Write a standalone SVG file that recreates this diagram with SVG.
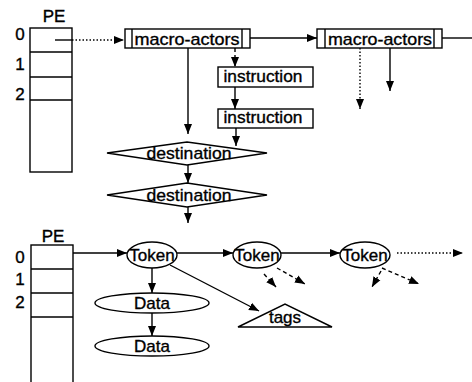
<svg xmlns="http://www.w3.org/2000/svg" width="472" height="382" viewBox="0 0 472 382">
<style>
text{font-family:"Liberation Sans",Arial,sans-serif;font-size:17px;fill:#000;stroke:#000;stroke-width:0.35;text-anchor:middle}
.s{fill:none;stroke:#000;stroke-width:1.4}
.w{fill:#fff;stroke:#000;stroke-width:1.4}
.c{fill:none;stroke:#000;stroke-width:1.4}
.d{stroke-dasharray:4 3}
.o{stroke-dasharray:1.5 2}
.a{marker-end:url(#ah)}
</style>
<defs>
<marker id="ah" markerUnits="userSpaceOnUse" markerWidth="10" markerHeight="10" viewBox="0 0 10 10" refX="10" refY="5" orient="auto">
<path d="M0,1 L10,5 L0,9 Z" fill="#000"/>
</marker>
</defs>
<g id="pe-top">
<text x="54" y="22">PE</text>
<rect class="s" x="30" y="28" width="42" height="144"/>
<line class="s" x1="30" y1="52" x2="72" y2="52"/>
<line class="s" x1="30" y1="77" x2="72" y2="77"/>
<line class="s" x1="30" y1="100" x2="72" y2="100"/>
<text x="20" y="40">0</text>
<text x="20" y="70">1</text>
<text x="20" y="100">2</text>
</g>
<g id="macro1">
<rect class="w" x="125" y="29" width="125" height="19"/>
<line class="s" x1="132" y1="29" x2="132" y2="48"/>
<line class="s" x1="242" y1="29" x2="242" y2="48"/>
<text x="187" y="45" textLength="105" lengthAdjust="spacingAndGlyphs">macro-actors</text>
</g>
<g id="macro2">
<rect class="w" x="317" y="29" width="125" height="19"/>
<line class="s" x1="325" y1="29" x2="325" y2="48"/>
<line class="s" x1="434" y1="29" x2="434" y2="48"/>
<text x="380" y="45" textLength="104" lengthAdjust="spacingAndGlyphs">macro-actors</text>
</g>
<g id="instr1">
<rect class="w" x="218" y="67" width="95" height="20"/>
<text x="263" y="82" textLength="79" lengthAdjust="spacingAndGlyphs">instruction</text>
</g>
<g id="instr2">
<rect class="w" x="218" y="109" width="95" height="19"/>
<text x="263" y="123" textLength="79" lengthAdjust="spacingAndGlyphs">instruction</text>
</g>
<g id="dest1">
<polygon class="w" points="107,153 187,142 267,153 187,165"/>
<text x="189" y="159" textLength="85" lengthAdjust="spacingAndGlyphs">destination</text>
</g>
<g id="dest2">
<polygon class="w" points="107,195 187,183 267,195 187,207"/>
<text x="189" y="201" textLength="85" lengthAdjust="spacingAndGlyphs">destination</text>
</g>
<g id="pe-bottom">
<text x="53" y="242">PE</text>
<rect class="s" x="31" y="245" width="42" height="150"/>
<line class="s" x1="31" y1="269" x2="73" y2="269"/>
<line class="s" x1="31" y1="293" x2="73" y2="293"/>
<line class="s" x1="31" y1="317" x2="73" y2="317"/>
<text x="20" y="263">0</text>
<text x="20" y="285">1</text>
<text x="20" y="308">2</text>
</g>
<g id="token1">
<ellipse class="w" cx="152" cy="255" rx="25" ry="13"/>
<text x="152" y="261">Token</text>
</g>
<g id="token2">
<ellipse class="w" cx="257" cy="255" rx="24" ry="13"/>
<text x="257" y="261">Token</text>
</g>
<g id="token3">
<ellipse class="w" cx="365" cy="255" rx="25" ry="13"/>
<text x="365" y="261">Token</text>
</g>
<g id="data1">
<ellipse class="w" cx="152" cy="303" rx="57" ry="10"/>
<text x="152" y="309">Data</text>
</g>
<g id="data2">
<ellipse class="w" cx="152" cy="346" rx="57" ry="10"/>
<text x="152" y="352">Data</text>
</g>
<g id="tags">
<polygon class="w" points="238,327 285,304 332,327"/>
<text x="285" y="323">tags</text>
</g>
<g id="connectors">
<line class="c" x1="55" y1="40" x2="72" y2="40" stroke-width="2"/>
<line class="c o a" x1="72" y1="40" x2="124" y2="40"/>
<line class="c a" x1="250" y1="38" x2="317" y2="38"/>
<line class="c" x1="442" y1="38" x2="472" y2="38"/>
<line class="c a" x1="188" y1="48" x2="188" y2="134"/>
<line class="c d a" x1="235" y1="48" x2="235" y2="67"/>
<line class="c a" x1="235" y1="87" x2="235" y2="109"/>
<line class="c a" x1="236" y1="128" x2="236" y2="146"/>
<line class="c a" x1="188" y1="165" x2="188" y2="183"/>
<line class="c a" x1="188" y1="207" x2="188" y2="223"/>
<line class="c o a" x1="360" y1="48" x2="360" y2="109"/>
<line class="c a" x1="390" y1="48" x2="390" y2="91"/>
<line class="c a" x1="73" y1="253" x2="127" y2="253"/>
<line class="c a" x1="177" y1="253" x2="233" y2="253"/>
<line class="c a" x1="281" y1="253" x2="340" y2="253"/>
<line class="c o a" x1="397" y1="253" x2="463" y2="253"/>
<line class="c a" x1="152" y1="268" x2="152" y2="293"/>
<line class="c a" x1="152" y1="313" x2="152" y2="336"/>
<line class="c a" x1="170" y1="265" x2="259" y2="311"/>
<line class="c d a" x1="277" y1="268" x2="305" y2="284"/>
<line class="c d a" x1="264" y1="274" x2="276" y2="287"/>
<line class="c d a" x1="382" y1="268" x2="419" y2="284"/>
<line class="c d a" x1="381" y1="271" x2="372" y2="287"/>
</g>
</svg>
